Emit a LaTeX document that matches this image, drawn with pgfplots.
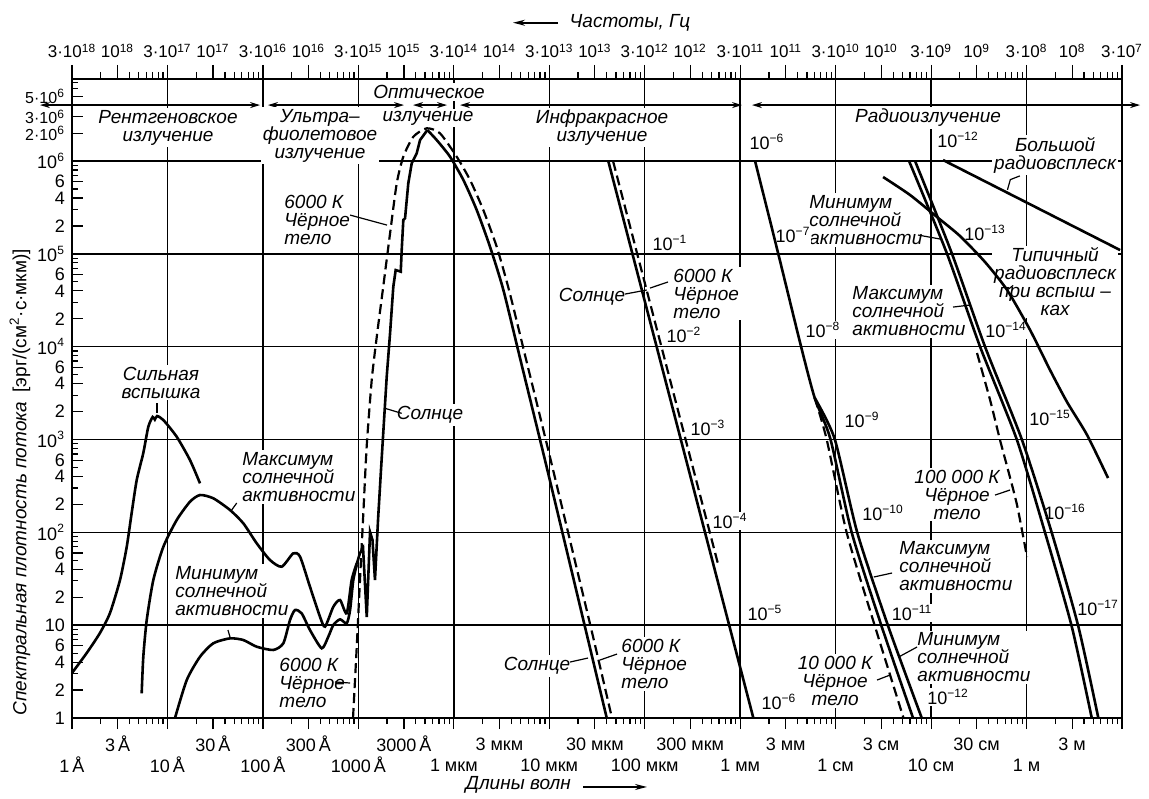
\documentclass[border=0pt]{standalone}
\usepackage{fontspec}
\setmainfont{Liberation Sans}
\usepackage{pgfplots}
\pgfplotsset{compat=1.18}
\usetikzlibrary{arrows.meta}

% both scales are logarithmic, the axes run in log10 units:
% x = log10(wavelength / 1 A), y = log10(flux)
\def\xminors{0.30103}
\foreach \k in {0,...,10}{\foreach \m in {2,...,9}{%
  \pgfmathsetmacro\tmpv{\k+log10(\m)}\xdef\xminors{\xminors,\tmpv}}}
\def\yminors{0.30103}
\foreach \k in {0,...,5}{\foreach \m in {2,...,9}{%
  \pgfmathsetmacro\tmpv{\k+log10(\m)}\xdef\yminors{\yminors,\tmpv}}}
\foreach \m in {2,...,7}{%
  \pgfmathsetmacro\tmpv{6+log10(\m)}\xdef\yminors{\yminors,\tmpv}}

\newcommand\sm[1]{{\fontsize{8}{8}\selectfont #1}}

\tikzset{
  lbl/.style={font=\fontsize{9.5}{9}\selectfont\itshape, fill=white, inner sep=1pt},
  ex/.style={font=\fontsize{9}{9}\selectfont, fill=white, inner sep=0.5pt},
  lead/.style={line width=0.6pt},
  rng/.style={line width=0.6pt, {Stealth[length=5pt,width=3pt]}-{Stealth[length=5pt,width=3pt]}},
}
\pgfplotsset{
  sol/.style={black, line width=1.3pt, no marks},
  bb/.style={black, line width=1.1pt, no marks, dash pattern=on 5pt off 2.5pt},
}

\begin{document}
\begin{tikzpicture}
\useasboundingbox (-36pt,-40pt) rectangle (538.5pt,359pt);
\begin{axis}[
  at={(0,0)}, anchor=south west, scale only axis,
  width=525pt, height=319.5pt,
  xmin=0, xmax=11, ymin=0, ymax=6.884,
  clip=false,
  axis line style={line width=1pt},
  tick style={black, line width=0.6pt},
  major tick length=5.5pt, minor tick length=3pt,
  xtick pos=bottom, ytick pos=left,
  xtick align=outside, ytick align=inside,
  grid=major, major grid style={black, line width=0.7pt},
  tick label style={font=\fontsize{9}{9}\selectfont},
  xtick={0,...,11},
  xticklabels={1\,Å,10\,Å,100\,Å,1000\,Å,1 мкм,10 мкм,100 мкм,1 мм,1 см,10 см,1 м,{}},
  xticklabel style={anchor=center, yshift=-18pt},
  extra x ticks={0.47712,1.47712,2.47712,3.47712,4.47712,5.47712,6.47712,7.47712,8.47712,9.47712,10.47712},
  extra x tick labels={3\,Å,30\,Å,300\,Å,3000\,Å,3 мкм,30 мкм,300 мкм,3 мм,3 см,30 см,3 м},
  extra x tick style={grid=none, xticklabel style={yshift=10.5pt}},
  minor xtick/.expanded={\xminors},
  ytick={0,...,6},
  yticklabels={1,10,10\textsuperscript{2},10\textsuperscript{3},10\textsuperscript{4},10\textsuperscript{5},10\textsuperscript{6}},
  extra y ticks={0.30103,0.60206,0.77815,1.30103,1.60206,1.77815,2.30103,2.60206,2.77815,3.30103,3.60206,3.77815,4.30103,4.60206,4.77815,5.30103,5.60206,5.77815,6.30103,6.47712,6.69897},
  extra y tick labels={2,4,6,2,4,6,2,4,6,2,4,6,2,4,6,2,4,6,\sm{2·10\textsuperscript{6}},\sm{3·10\textsuperscript{6}},\sm{5·10\textsuperscript{6}}},
  extra y tick style={grid=none},
  minor ytick/.expanded={\yminors},
]
% texts first: their white boxes break the grid, the curves stay on top
% ranges
\draw[rng] (-0.335,6.603) -- (1.970,6.603);
\draw[rng] (2.053,6.603) -- (3.478,6.603);
\draw[rng] (3.573,6.603) -- (3.929,6.603);
\draw[rng] (4.065,6.603) -- (7.019,6.603);
\draw[rng] (7.124,6.603) -- (11.189,6.603);
\node[lbl, align=center] at (1.006,6.361) {Рентгеновское\\излучение};
\node[lbl, align=center] at (2.598,6.270) {Ультра–\\фиолетовое\\излучение};
\node[lbl] at (3.740,6.744) {Оптическое};
\node[lbl] at (3.730,6.463) {излучение};
\node[lbl, align=center] at (5.553,6.361) {Инфракрасное\\излучение};
\node[lbl] at (8.968,6.463) {Радиоизлучение};

% curve names
\node[lbl, align=center] at (0.932,3.614) {Сильная\\вспышка};
\draw[lead] (0.891,3.39) -- (0.891,3.29);
\node[lbl, align=left, anchor=west] at (1.760,2.596) {Максимум\\солнечной\\активности};
\draw[lead] (1.726,2.316) -- (1.673,2.241);
\node[lbl, align=left, anchor=west] at (1.058,1.368) {Минимум\\солнечной\\активности};
\draw[lead] (1.634,0.948) -- (1.655,0.873);
\node[lbl, align=left, anchor=west] at (2.148,0.377) {6000 К\\Чёрное\\тело};
\draw[lead] (2.755,0.388) -- (2.913,0.377);
\node[lbl, align=left, anchor=west] at (2.200,5.365) {6000 К\\Чёрное\\тело};
\draw[lead] (2.913,5.418) -- (3.300,5.310);
\node[lbl] at (3.751,3.264) {Солнце};
\draw[lead] (3.454,3.282) -- (3.280,3.336);
\node[lbl] at (5.448,4.535) {Солнце};
\draw[lead] (5.794,4.567) -- (6.021,4.611);
\node[lbl, align=left, anchor=west] at (6.276,4.573) {6000 К\\Чёрное\\тело};
\draw[lead] (6.244,4.697) -- (6.056,4.632);
\node[lbl] at (4.872,0.560) {Солнце};
\draw[lead] (5.217,0.603) -- (5.406,0.646);
\node[lbl, align=left, anchor=west] at (5.731,0.582) {6000 К\\Чёрное\\тело};
\draw[lead] (5.710,0.689) -- (5.532,0.625);
\node[lbl, align=center] at (10.299,6.065) {Большой\\радиовсплеск};
\draw[lead] (9.93,5.84) -- (9.83,5.80) -- (9.80,5.69);
\node[lbl, align=left, anchor=west] at (7.700,5.365) {Минимум\\солнечной\\активности};
\draw[lead] (8.863,5.203) -- (9.094,5.160);
\node[lbl, align=center] at (10.299,4.697) {Типичный\\радиовсплеск\\при вспыш –\\ках};
\draw[lead] (9.86,4.66) -- (9.81,4.62);
\node[lbl, align=left, anchor=west] at (8.151,4.379) {Максимум\\солнечной\\активности};
\draw[lead] (9.230,4.427) -- (9.408,4.449);
\node[lbl, align=center] at (9.272,2.408) {100 000 К\\Чёрное\\тело};
\draw[lead] (9.670,2.402) -- (9.827,2.456);
\node[lbl, align=left, anchor=west] at (8.643,1.632) {Максимум\\солнечной\\активности};
\draw[lead] (8.591,1.562) -- (8.400,1.519);
\node[lbl, align=left, anchor=west] at (8.832,0.652) {Минимум\\солнечной\\активности};
\draw[lead] (8.853,0.765) -- (8.660,0.657);
\node[lbl, align=center] at (7.994,0.399) {10 000 К\\Чёрное\\тело};
\draw[lead] (8.434,0.409) -- (8.570,0.463);

% scale factors of the folded curves
\node[ex] at (6.265,5.117) {10\textsuperscript{−1}};
\node[ex] at (6.412,4.126) {10\textsuperscript{−2}};
\node[ex] at (6.663,3.124) {10\textsuperscript{−3}};
\node[ex] at (6.894,2.122) {10\textsuperscript{−4}};
\node[ex] at (7.260,1.131) {10\textsuperscript{−5}};
\node[ex] at (7.407,0.172) {10\textsuperscript{−6}};
\node[ex] at (7.281,6.205) {10\textsuperscript{−6}};
\node[ex] at (7.554,5.203) {10\textsuperscript{−7}};
\node[ex] at (7.868,4.180) {10\textsuperscript{−8}};
\node[ex] at (8.277,3.210) {10\textsuperscript{−9}};
\node[ex] at (8.497,2.208) {10\textsuperscript{−10}};
\node[ex] at (8.800,1.131) {10\textsuperscript{−11}};
\node[ex] at (9.178,0.226) {10\textsuperscript{−12}};
\node[ex] at (9.282,6.226) {10\textsuperscript{−12}};
\node[ex] at (9.565,5.225) {10\textsuperscript{−13}};
\node[ex] at (9.785,4.180) {10\textsuperscript{−14}};
\node[ex] at (10.246,3.232) {10\textsuperscript{−15}};
\node[ex] at (10.403,2.219) {10\textsuperscript{−16}};
\node[ex] at (10.749,1.185) {10\textsuperscript{−17}};

% axis titles
\node[rotate=90, font=\fontsize{9.5}{9}\selectfont] at (-0.545,2.54)
  {\textit{Спектральная плотность потока}\enspace[эрг/(см\textsuperscript{2}·с·мкм)]};
\draw[-{Stealth[length=6pt,width=3pt]}, line width=0.8pt] (5.092,7.49) -- (4.620,7.49);
\node[font=\fontsize{9.5}{9}\selectfont\itshape, anchor=west] at (5.14,7.49) {Частоты, Гц};
\node[font=\fontsize{9.5}{9}\selectfont\itshape, anchor=east] at (5.30,-0.72) {Длины волн};
\draw[-{Stealth[length=6pt,width=3pt]}, line width=0.8pt] (5.354,-0.743) -- (6.024,-0.743);

% strong flare
\addplot[sol, smooth, tension=0.4] coordinates {
  (0,0.485) (0.154,0.700) (0.293,0.916) (0.398,1.131) (0.503,1.487) (0.573,1.842)
  (0.625,2.208) (0.678,2.564) (0.747,2.855) (0.799,3.135) (0.845,3.243) (0.868,3.215)
  (0.891,3.253) (0.957,3.210) (1.097,3.030) (1.236,2.779) (1.341,2.528)};
% maximum of solar activity, X-ray / UV
\addplot[sol, smooth, tension=0.4] coordinates {
  (0.730,0.266) (0.747,0.660) (0.783,1.056) (0.852,1.487) (0.957,1.845) (1.097,2.133)
  (1.236,2.330) (1.341,2.402) (1.480,2.367) (1.655,2.241) (1.795,2.097) (1.935,1.882)
  (2.074,1.702) (2.197,1.630) (2.318,1.774) (2.389,1.738) (2.493,1.414) (2.598,1.091)
  (2.651,0.984) (2.738,1.199) (2.808,1.271) (2.878,1.128) (2.930,1.487) (2.983,1.666)};
% minimum of solar activity, X-ray / UV
\addplot[sol, smooth, tension=0.4] coordinates {
  (1.079,0) (1.202,0.409) (1.341,0.660) (1.480,0.805) (1.655,0.858) (1.795,0.840)
  (1.935,0.768) (2.109,0.733) (2.214,0.805) (2.284,1.056) (2.336,1.163) (2.406,1.128)
  (2.493,0.948) (2.616,0.751) (2.685,0.876) (2.738,1.002) (2.808,1.063) (2.878,1.020)
  (2.913,1.163) (2.947,1.487) (2.983,1.648)};
% Sun, UV lines and optical rise
\addplot[sol] coordinates {
  (2.983,1.660) (3.017,1.777) (3.049,1.831) (3.088,1.088) (3.122,2.004) (3.148,1.917)
  (3.174,1.487) (3.206,2.133) (3.237,2.672) (3.269,3.210) (3.297,3.677) (3.332,4.144)
  (3.366,4.646) (3.391,4.826) (3.444,4.808) (3.454,5.041) (3.471,5.365) (3.489,5.383)
  (3.523,5.760) (3.559,5.976) (3.611,6.083) (3.646,6.226) (3.698,6.299) (3.722,6.335)};
% Sun, optical fall and IR (scale x1)
\addplot[sol, smooth, tension=0.4] coordinates {
  (3.722,6.335) (3.821,6.226) (3.960,6.047) (4.100,5.796) (4.240,5.472) (4.379,5.077)
  (4.519,4.611) (4.700,3.850) (4.950,2.800) (5.200,1.730) (5.400,0.870) (5.602,0)};
% black body 6000 K
\addplot[bb, smooth, tension=0.4] coordinates {
  (2.944,0) (2.983,0.768) (3.017,1.487) (3.052,2.205) (3.087,2.923) (3.140,3.641)
  (3.195,4.126) (3.261,4.650) (3.332,5.220) (3.402,5.760) (3.471,6.047) (3.576,6.262)
  (3.716,6.353) (3.855,6.299) (4.030,6.047) (4.170,5.796) (4.309,5.472) (4.449,5.077)
  (4.578,4.611) (4.760,3.850) (5.010,2.800) (5.260,1.730) (5.460,0.870) (5.657,0)};
% IR, scales 1e-1 ... 1e-6
\addplot[sol] coordinates {(5.618,6.0) (6.378,3.0) (7.138,0)};
\addplot[bb] coordinates {(5.668,6.0) (6.776,1.627)};
% radio, scales 1e-6 ... 1e-12
\addplot[sol, smooth, tension=0.4] coordinates {
  (7.156,6.0) (7.397,5.009) (7.638,4.0) (7.780,3.450) (7.945,3.006) (8.169,1.996)
  (8.483,0.984) (8.811,0)};
\addplot[sol, smooth, tension=0.4] coordinates {
  (7.780,3.450) (7.990,3.006) (8.227,1.996) (8.552,0.984) (8.902,0)};
\addplot[bb, smooth, tension=0.4] coordinates {
  (7.780,3.450) (7.905,3.006) (8.116,1.996) (8.413,0.984) (8.711,0)};
% radio, scales 1e-12 ... 1e-17
\addplot[sol, smooth, tension=0.4] coordinates {
  (8.769,6.0) (9.164,5.009) (9.513,4.0) (9.897,3.002) (10.194,1.996) (10.474,0.984) (10.683,0)};
\addplot[sol, smooth, tension=0.4] coordinates {
  (8.832,6.0) (9.216,5.009) (9.565,4.0) (9.950,3.002) (10.264,1.996) (10.543,0.984) (10.752,0)};
\addplot[bb, smooth, tension=0.4] coordinates {
  (9.481,3.932) (9.618,3.426) (9.722,2.995) (9.806,2.672) (9.900,2.295) (10.005,1.734)};
% typical radio burst during flares
\addplot[sol, smooth, tension=0.4] coordinates {
  (8.497,5.828) (8.780,5.634) (9.062,5.397) (9.303,5.192) (9.565,4.912) (9.796,4.611)
  (10.037,4.180) (10.246,3.749) (10.424,3.404) (10.634,3.049) (10.854,2.585)};
% large radio burst
\addplot[sol] coordinates {(9.125,6.011) (10.980,5.041)};
\end{axis}

% frequency scale on top
\begin{axis}[
  at={(0,0)}, anchor=south west, scale only axis,
  width=525pt, height=319.5pt,
  xmin=0, xmax=11, ymin=0, ymax=6.884,
  axis x line*=top, axis y line=none,
  axis line style={line width=1pt},
  tick style={black, line width=0.6pt},
  major tick length=7pt, minor tick length=3.5pt,
  xtick align=outside,
  tick label style={font=\fontsize{8.5}{8.5}\selectfont},
  xtick={0,...,11},
  xticklabels={3·10\textsuperscript{18},3·10\textsuperscript{17},3·10\textsuperscript{16},3·10\textsuperscript{15},3·10\textsuperscript{14},3·10\textsuperscript{13},3·10\textsuperscript{12},3·10\textsuperscript{11},3·10\textsuperscript{10},3·10\textsuperscript{9},3·10\textsuperscript{8},3·10\textsuperscript{7}},
  extra x ticks={0.47712,1.47712,2.47712,3.47712,4.47712,5.47712,6.47712,7.47712,8.47712,9.47712,10.47712},
  extra x tick labels={10\textsuperscript{18},10\textsuperscript{17},10\textsuperscript{16},10\textsuperscript{15},10\textsuperscript{14},10\textsuperscript{13},10\textsuperscript{12},10\textsuperscript{11},10\textsuperscript{10},10\textsuperscript{9},10\textsuperscript{8}},
  minor xtick/.expanded={\xminors},
]
\end{axis}
\end{tikzpicture}
\end{document}
